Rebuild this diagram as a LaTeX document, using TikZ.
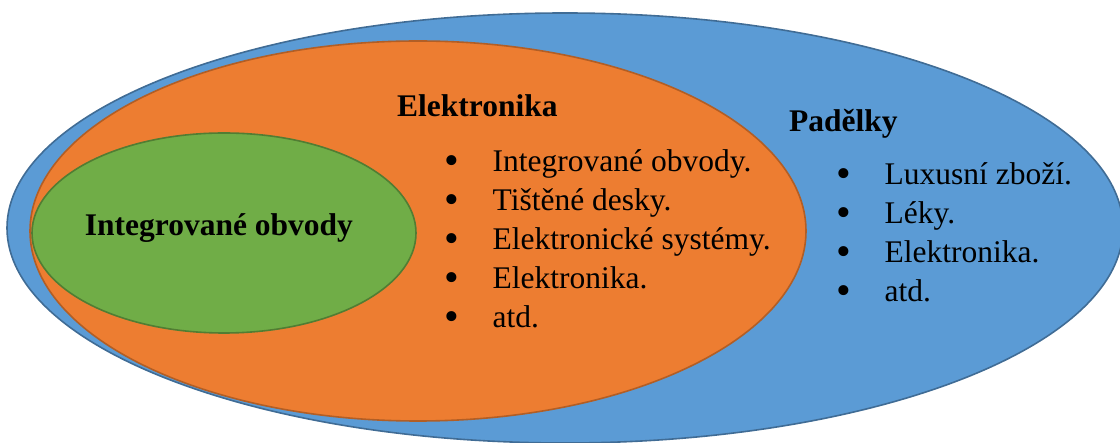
\documentclass[tikz,border=0pt]{standalone}
\usepackage{fontspec}
\setmainfont{Liberation Serif}
\usetikzlibrary{positioning}

\tikzset{
  setshape/.style={line width=1.6pt},
  heading/.style={font=\fontsize{31.5}{39}\selectfont\bfseries, inner sep=0pt, anchor=base west},
  itemlist/.style={inner sep=0pt, anchor=base west}
}
\newcommand{\bulletlist}[1]{\begin{tabular}[t]{@{}l@{\hspace{35pt}}l@{}}#1\end{tabular}}
\newcommand{\bigdot}{\makebox[11pt][c]{\raisebox{-2.5pt}{\fontsize{42}{39}\selectfont •}}}

\begin{document}
\begin{tikzpicture}[x=1pt, y=-1pt, font=\fontsize{31.5}{39}\selectfont]
    \definecolor{cblue}{RGB}{91, 155, 213} % Blue
    \definecolor{corange}{RGB}{237, 125, 49} % Orange
    \definecolor{cgreen}{RGB}{112, 173, 71} % Green

    \useasboundingbox (0,0) rectangle (1120,443);
    \clip (0,0) rectangle (1120,443);

    % Sets
    \filldraw[setshape, fill=cblue, draw=cblue!70!black] (565,228) ellipse [x radius=558pt, y radius=215pt];
    \filldraw[setshape, fill=corange, draw=corange!75!black] (418,231) ellipse [x radius=388pt, y radius=190pt];
    \filldraw[setshape, fill=cgreen, draw=cgreen!72!black] (224,233) ellipse [x radius=192pt, y radius=100pt];

    % Headings
    \node[heading] (elektronika) at (397,117) {Elektronika};
    \node[heading] (padelky) at (789,132) {Padělky};
    \node[heading, anchor=base] (io) at (219,236) {Integrované obvody};

    % Lists
    \node[itemlist] (listE) at (446.5,172) {\bulletlist{
        \bigdot & Integrované obvody.\\
        \bigdot & Tištěné desky.\\
        \bigdot & Elektronické systémy.\\
        \bigdot & Elektronika.\\
        \bigdot & atd.}};
    \node[itemlist] (listP) at (838.5,185) {\bulletlist{
        \bigdot & Luxusní zboží.\\
        \bigdot & Léky.\\
        \bigdot & Elektronika.\\
        \bigdot & atd.}};
\end{tikzpicture}
\end{document}
